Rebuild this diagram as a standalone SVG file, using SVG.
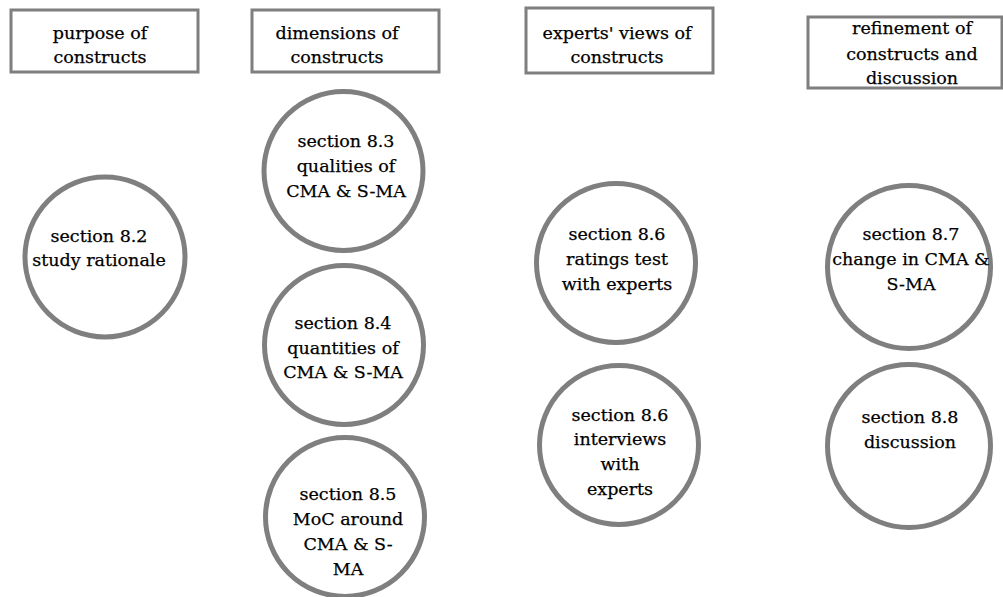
<svg xmlns="http://www.w3.org/2000/svg" width="1003" height="597" viewBox="0 0 1003 597">
  <style>
    .hdr { fill: #ffffff; stroke: #7f7f7f; stroke-width: 3; }
    .sec { fill: #ffffff; stroke: #7f7f7f; stroke-width: 5; }
    text { font-family: "DejaVu Serif", "Liberation Serif", serif; font-size: 17.5px; fill: #000000; stroke: #000000; stroke-width: 0.25; text-anchor: middle; }
  </style>
  <rect width="1003" height="597" fill="#ffffff"/>

  <!-- column headers -->
  <g id="hdr-purpose">
    <rect class="hdr" x="11" y="10" width="187" height="62"/>
    <text x="100" y="39">purpose of</text>
    <text x="100" y="63">constructs</text>
  </g>
  <g id="hdr-dimensions">
    <rect class="hdr" x="252" y="10" width="187" height="62"/>
    <text x="337" y="39">dimensions of</text>
    <text x="337" y="63">constructs</text>
  </g>
  <g id="hdr-experts">
    <rect class="hdr" x="526" y="8" width="187" height="65"/>
    <text x="617" y="39">experts' views of</text>
    <text x="617" y="63">constructs</text>
  </g>
  <g id="hdr-refinement">
    <rect class="hdr" x="808" y="17" width="194" height="71"/>
    <text x="912" y="34">refinement of</text>
    <text x="912" y="60">constructs and</text>
    <text x="912" y="84">discussion</text>
  </g>

  <!-- section nodes -->
  <g id="sec-8-2">
    <circle class="sec" cx="105" cy="257" r="80"/>
    <text x="99" y="242">section 8.2</text>
    <text x="99" y="266">study rationale</text>
  </g>
  <g id="sec-8-3">
    <circle class="sec" cx="343.5" cy="171" r="79.5"/>
    <text x="346" y="147">section 8.3</text>
    <text x="346" y="172">qualities of</text>
    <text x="346" y="197">CMA &amp; S-MA</text>
  </g>
  <g id="sec-8-4">
    <circle class="sec" cx="344" cy="345" r="79.5"/>
    <text x="343" y="329">section 8.4</text>
    <text x="343" y="354">quantities of</text>
    <text x="343" y="378">CMA &amp; S-MA</text>
  </g>
  <g id="sec-8-5">
    <circle class="sec" cx="345" cy="517" r="79.5"/>
    <text x="348" y="500">section 8.5</text>
    <text x="348" y="525">MoC around</text>
    <text x="348" y="550">CMA &amp; S-</text>
    <text x="348" y="575">MA</text>
  </g>
  <g id="sec-8-6-ratings">
    <circle class="sec" cx="616" cy="263" r="79.5"/>
    <text x="617" y="240">section 8.6</text>
    <text x="617" y="265">ratings test</text>
    <text x="617" y="290">with experts</text>
  </g>
  <g id="sec-8-6-interviews">
    <circle class="sec" cx="619" cy="445" r="79.5"/>
    <text x="620" y="421">section 8.6</text>
    <text x="620" y="445">interviews</text>
    <text x="620" y="470">with</text>
    <text x="620" y="495">experts</text>
  </g>
  <g id="sec-8-7">
    <circle class="sec" cx="909" cy="267" r="81.5"/>
    <text x="911" y="240">section 8.7</text>
    <text x="911" y="265">change in CMA &amp;</text>
    <text x="911" y="290">S-MA</text>
  </g>
  <g id="sec-8-8">
    <circle class="sec" cx="909" cy="446" r="81.5"/>
    <text x="910" y="423">section 8.8</text>
    <text x="910" y="448">discussion</text>
  </g>

  <!-- no connectors are drawn between nodes -->
  <g id="connectors"/>
</svg>
